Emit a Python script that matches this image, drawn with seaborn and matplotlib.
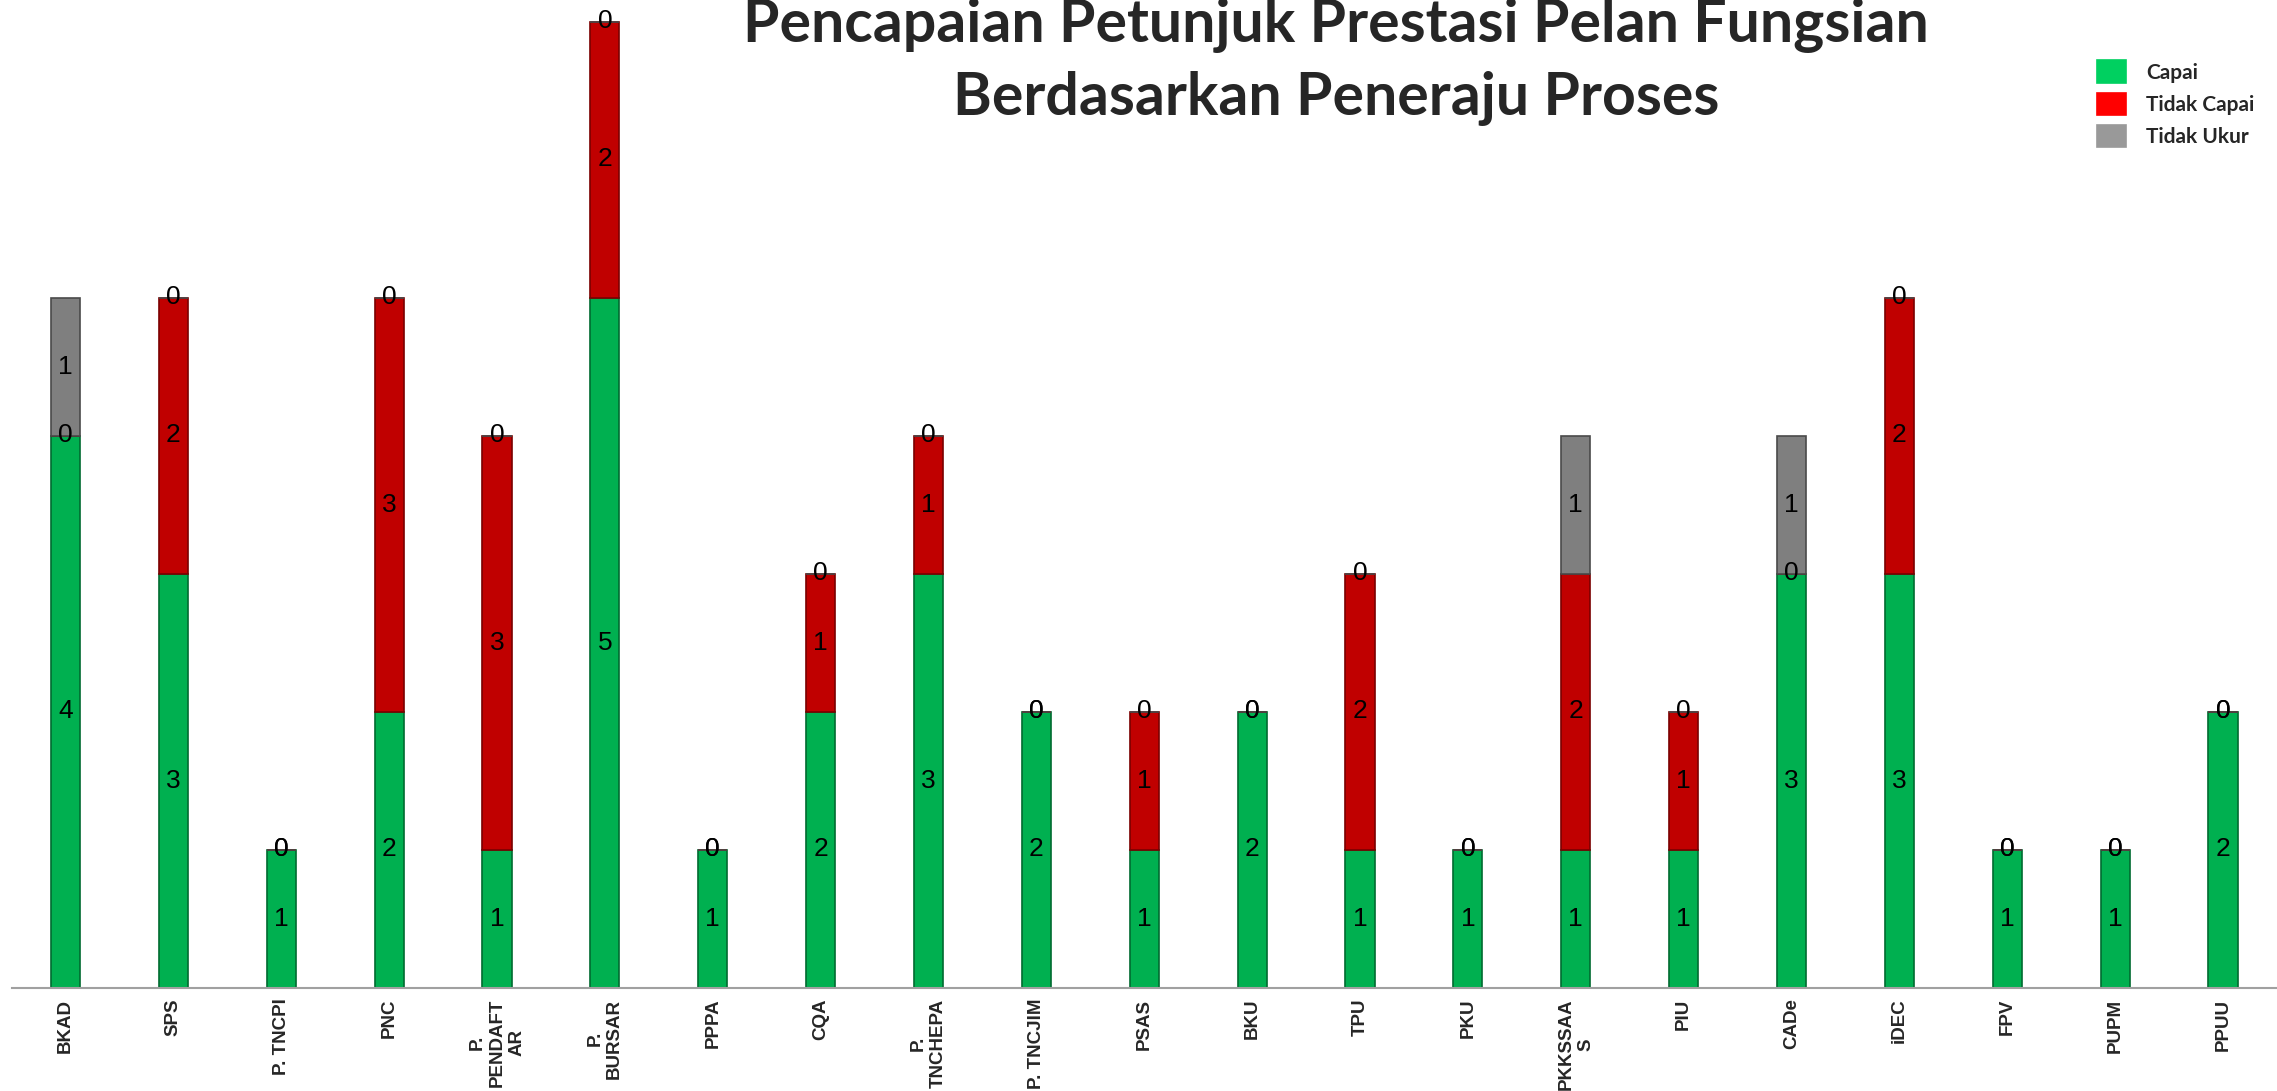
import numpy as np
import pandas as pd
import matplotlib
matplotlib.use('Agg')
import matplotlib.pyplot as plt
import seaborn as sns

sns.set_style('white')
plt.rcParams['font.family'] = ['Liberation Sans', 'DejaVu Sans']

# data
categories = ['BKAD', 'SPS', 'P. TNCPI', 'PNC', 'P.\nPENDAFT\nAR', 'P.\nBURSAR', 'PPPA',
              'CQA', 'P.\nTNCHEPA', 'P. TNCJIM', 'PSAS', 'BKU', 'TPU', 'PKU',
              'PKKSSAA\nS', 'PIU', 'CADe', 'iDEC', 'FPV', 'PUPM', 'PPUU']
capai = [4, 3, 1, 2, 1, 5, 1, 2, 3, 2, 1, 2, 1, 1, 1, 1, 3, 3, 1, 1, 2]
tidak_capai = [0, 2, 0, 3, 3, 2, 0, 1, 1, 0, 1, 0, 2, 0, 2, 1, 0, 2, 0, 0, 0]
tidak_ukur = [1, 0, 0, 0, 0, 0, 0, 0, 0, 0, 0, 0, 0, 0, 1, 0, 1, 0, 0, 0, 0]
series_names = ['Capai', 'Tidak Capai', 'Tidak Ukur']

bar_colors = ['#00B050', '#C00000', '#7F7F7F']
edge_colors = ['#006B30', '#7A0000', '#4A4A4A']
legend_colors = ['#00D060', '#FF0000', '#999999']

df = pd.DataFrame({'cat': categories, 'Capai': capai,
                   'Tidak Capai': tidak_capai, 'Tidak Ukur': tidak_ukur})

fig = plt.figure(figsize=(22.77, 10.91), dpi=100)
ax = fig.add_axes([11.6 / 2277, 1 - 987.5 / 1091, 1 - 11.6 / 2277, 987.5 / 1091])

bottom = np.zeros(len(df))
for name, c, ec in zip(series_names, bar_colors, edge_colors):
    sns.barplot(data=df, x='cat', y=name, color=c, width=0.27, bottom=bottom,
                edgecolor=ec, linewidth=1.2, saturation=1, label=name, ax=ax)
    bottom = bottom + df[name].values

for cont in ax.containers:
    ax.bar_label(cont, label_type='center', fontsize=19, color='black')

ax.set_xlim(-0.5, -0.5 + 2265.4 / 108.5)
ax.set_ylim(0, 987.5 / 138)
ax.set_xlabel('')
ax.set_ylabel('')
ax.set_yticks([])
for s in ['left', 'top', 'right']:
    ax.spines[s].set_visible(False)
ax.spines['bottom'].set_color('#A0A0A0')
ax.spines['bottom'].set_linewidth(1.5)

ax.set_xticks(np.arange(len(categories)))
ax.set_xticklabels(categories, rotation=90, fontsize=13.5, fontweight='bold',
                   multialignment='center')
ax.tick_params(axis='x', which='major', length=0, pad=8)
ax.set_xticks(np.arange(len(categories) + 1) - 0.5, minor=True)
ax.tick_params(axis='x', which='minor', length=6, width=1.2, color='#A0A0A0')

leg = ax.legend(loc='upper left', bbox_to_anchor=(2087 / 2277, 1 - 50 / 1091),
                bbox_transform=fig.transFigure, frameon=False, borderpad=0,
                handlelength=1.35, handleheight=1.3, handletextpad=1.0,
                labelspacing=0.45, prop={'family': 'Lato', 'weight': 'bold', 'size': 15})
for h, c in zip(leg.legend_handles, legend_colors):
    h.set_facecolor(c)
    h.set_edgecolor(c)

fig.text(1336 / 2277, 1 - 62 / 1091,
         'Pencapaian Petunjuk Prestasi Pelan Fungsian\nBerdasarkan Peneraju Proses',
         ha='center', va='center', fontsize=42.5, fontweight='bold', family='Lato',
         linespacing=1.42)

fig.savefig('out.png', dpi=100)
